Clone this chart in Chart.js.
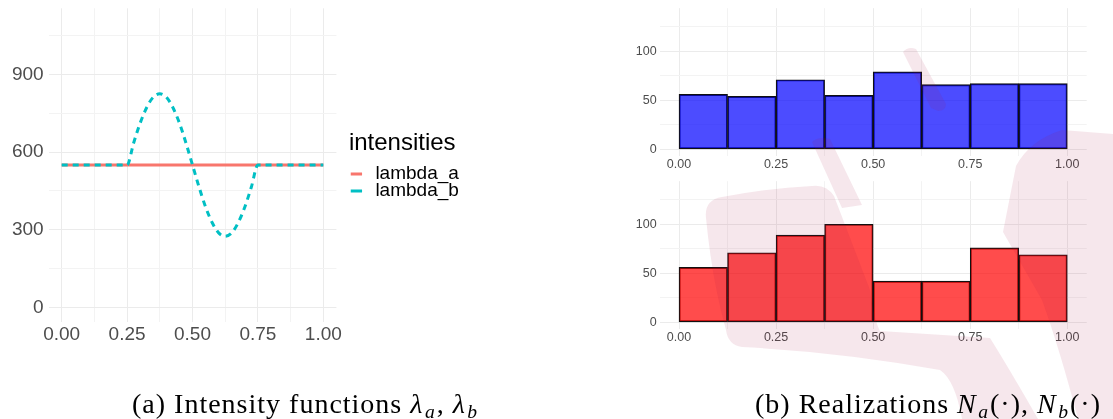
<!DOCTYPE html>
<html>
<head>
<meta charset="utf-8">
<script src="https://cdn.jsdelivr.net/npm/chart.js@4.4.1/dist/chart.umd.min.js"></script>
<style>
  body { margin: 0; background: #fff; }
  #page { position: relative; width: 1113px; height: 419px; overflow: hidden; background: #fff; }
  .box { position: absolute; }
  #mark { position: absolute; left: 0; top: 0; pointer-events: none; }
  .cap { position: absolute; top: 390px; font-family: "Liberation Serif", "DejaVu Serif", serif;
         font-size: 28px; line-height: 28px; letter-spacing: 1px; color: #000; white-space: nowrap; }
  .cap i { margin-right: 1.5px; }
  .cap sub { font-size: 0.7em; vertical-align: -0.25em; line-height: 0; letter-spacing: 0; }
  .cap sub i { margin-right: 2px; }
</style>
</head>
<body>
<div id="page">
  <div class="box" style="left:0;top:0"><canvas id="intensities" width="500" height="360"></canvas></div>
  <div class="box" style="left:600px;top:0"><canvas id="histA" width="513" height="180"></canvas></div>
  <div class="box" style="left:600px;top:173px"><canvas id="histB" width="513" height="180"></canvas></div>

  <!-- filigrane rose en fond -->
  <svg id="mark" width="1113" height="419">
    <g fill="rgba(170,20,70,0.10)">
      <path d="M903,52 Q908,46 916,49 L946,104 Q946,111 938,111 L931,108 Z"/>
      <path d="M812,142 Q818,136 830,139 L862,205 L842,208 Z"/>
      <path d="M706,218 Q704,200 722,197 Q770,188 812,186 Q826,184 834,196 L870,290 Q874,320 880,331 L990,338 Q1010,370 1038,419 L962,419 Q955,380 940,370 Q840,352 742,347 Q728,345 726,330 Q712,280 706,218 Z"/>
      <path d="M1016,166 Q1030,140 1062,130 L1113,134 L1113,419 L1078,419 Q1060,350 1042,300 L1003,232 Z"/>
    </g>
  </svg>

  <div class="cap" style="left:132px">(a) Intensity functions <i>λ</i><sub><i>a</i></sub>, <i>λ</i><sub><i>b</i></sub></div>
  <div class="cap" style="left:755px">(b) Realizations <i>N</i><sub><i>a</i></sub>(·), <i>N</i><sub><i>b</i></sub>(·)</div>
</div>

<script>
// données
const gridX = [0, 0.125, 0.25, 0.375, 0.5, 0.625, 0.75, 0.875, 1];

const lambdaAX = [0, 1];
const lambdaAY = [550, 550];

const lambdaBX = [0, 0.25, 0.275, 0.3, 0.325, 0.35, 0.375, 0.4, 0.425, 0.45, 0.475, 0.5,
                  0.525, 0.55, 0.575, 0.6, 0.625, 0.65, 0.675, 0.7, 0.725, 0.75, 1];
const lambdaBY = [550, 550, 635, 712, 772, 812, 825, 812, 772, 712, 635, 550,
                  465, 388, 328, 288, 275, 288, 328, 388, 465, 550, 550];
const intensityTicks = [0, 150, 300, 450, 600, 750, 900, 1050];

const binMids = [0.0625, 0.1875, 0.3125, 0.4375, 0.5625, 0.6875, 0.8125, 0.9375];
const countsA = [56, 54, 71, 55, 79, 66, 67, 67];
const countsB = [56, 71, 89, 100, 42, 42, 76, 69];
const countTicks = [0, 25, 50, 75, 100, 125];

Chart.defaults.font.family = '"Liberation Sans", Arial, sans-serif';

const GRID_MAJOR = '#EBEBEB';
const GRID_MINOR = '#F3F3F3';
const isMajor = (v, step) => Math.abs(v / step - Math.round(v / step)) < 1e-6;
const toPoints = (xs, ys) => xs.map((x, i) => ({ x, y: ys[i] }));

// largeur fixe de la légende
const legendWidth = w => ({
  id: 'legendWidth',
  beforeInit(chart) {
    const fit = chart.legend.fit;
    chart.legend.fit = function () { fit.call(this); this.width = w; };
  }
});

// axe commun (ticks fixes, grille majeure / mineure)
function axis(ticks, min, max, step, opts) {
  return {
    type: 'linear', min, max, offset: false,
    afterBuildTicks: s => { s.ticks = ticks.map(v => ({ value: v })); },
    afterFit: s => {
      if (opts.width != null) s.width = opts.width;
      if (opts.height != null) s.height = opts.height;
      s.paddingTop = s.paddingBottom = s.paddingLeft = s.paddingRight = 0;
    },
    grid: {
      offset: false, drawTicks: false, lineWidth: 1,
      color: c => (c.tick && isMajor(c.tick.value, step)) ? GRID_MAJOR : GRID_MINOR
    },
    border: { display: false },
    ticks: {
      padding: opts.pad, color: '#4D4D4D', font: { size: opts.size },
      autoSkip: false, maxRotation: 0,
      callback: v => isMajor(v, step) ? opts.fmt(v) : ''
    }
  };
}

// (a) fonctions d'intensité
new Chart(document.getElementById('intensities'), {
  type: 'line',
  data: {
    datasets: [
      { label: 'lambda_a', data: toPoints(lambdaAX, lambdaAY), xAxisID: 'x', yAxisID: 'y',
        borderColor: '#F8766D', backgroundColor: '#F8766D', borderWidth: 3, pointRadius: 0, order: 2 },
      { label: 'lambda_b', data: toPoints(lambdaBX, lambdaBY), xAxisID: 'x', yAxisID: 'y',
        borderColor: '#00BFC4', backgroundColor: '#00BFC4', borderWidth: 3, borderDash: [6, 5],
        pointRadius: 0, cubicInterpolationMode: 'monotone', order: 1 }
    ]
  },
  options: {
    responsive: false, animation: false,
    layout: { padding: { top: 8.3, left: 0, right: 0, bottom: 0 } },
    scales: {
      x: axis(gridX, -0.05, 1.05, 0.25, { height: 38.3, pad: 2, size: 19, fmt: v => v.toFixed(2) }),
      y: axis(intensityTicks, -55, 1155, 300, { width: 48.6, pad: 5, size: 19, fmt: v => String(v) }),
      gap: {
        type: 'linear', position: 'right', display: true,
        grid: { display: false }, border: { display: false }, ticks: { display: false },
        afterFit: s => { s.width = 12.5; s.paddingTop = s.paddingBottom = 0; }
      }
    },
    plugins: {
      legend: {
        position: 'right', align: 'center', fullSize: false,
        labels: {
          usePointStyle: true, pointStyle: 'line', boxWidth: 20, boxHeight: 8, padding: -2,
          color: '#000', font: { size: 19 },
          sort: (a, b) => a.datasetIndex - b.datasetIndex
        },
        title: { display: true, text: 'intensities', position: 'start', color: '#000',
                 font: { size: 24 }, padding: { top: 0, bottom: 6 } }
      },
      tooltip: { enabled: false }
    }
  },
  plugins: [legendWidth(151.1)]
});

// (b) histogrammes
function histogram(id, counts, fill) {
  new Chart(document.getElementById(id), {
    type: 'bar',
    data: {
      datasets: [{
        data: toPoints(binMids, counts),
        backgroundColor: fill, borderColor: '#111', borderWidth: 1.2, borderSkipped: false,
        barPercentage: 1, categoryPercentage: 1
      }]
    },
    options: {
      responsive: false, animation: false,
      layout: { padding: { top: 8.2, right: 26.3, left: 0, bottom: 0 } },
      scales: {
        x: axis(gridX, -0.05, 1.05, 0.25, { height: 23.8, pad: 1, size: 12.5, fmt: v => v.toFixed(2) }),
        y: axis(countTicks, -7, 144, 50, { width: 59.6, pad: 3, size: 12.5, fmt: v => String(v) })
      },
      plugins: { legend: { display: false }, tooltip: { enabled: false } }
    }
  });
}

histogram('histA', countsA, 'rgba(0,0,255,0.7)');
histogram('histB', countsB, 'rgba(255,0,0,0.7)');
</script>
</body>
</html>
